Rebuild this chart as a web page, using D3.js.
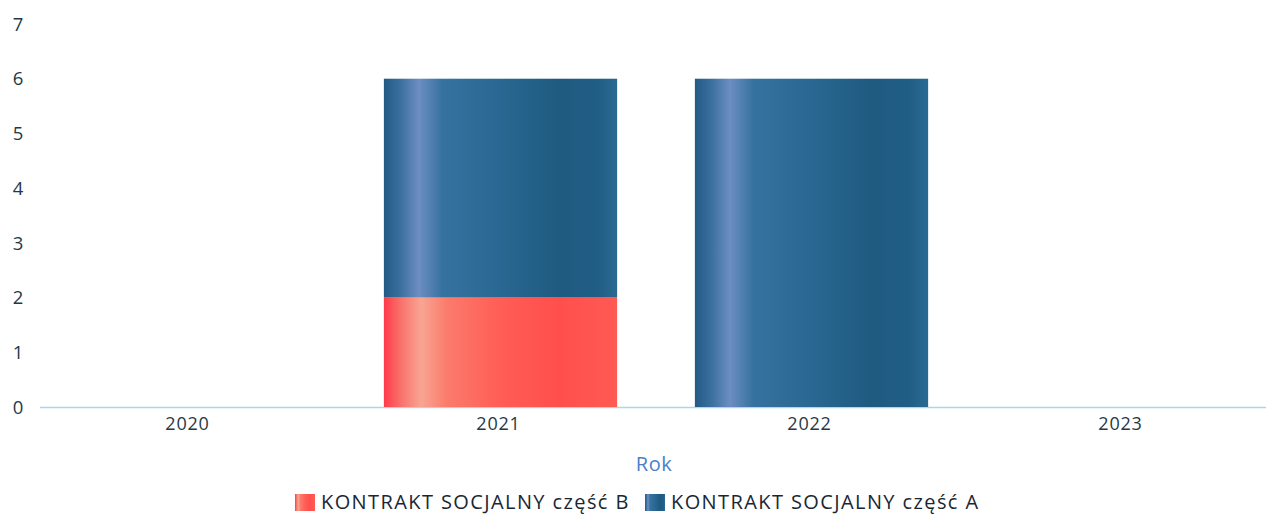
<!DOCTYPE html>
<html><head><meta charset="utf-8">
<script src="https://cdn.jsdelivr.net/npm/d3@7/dist/d3.min.js"></script>
<style>body{margin:0;background:#fff;}svg{display:block;font-family:"Open Sans","Noto Sans",sans-serif;}</style>
</head><body>
<svg id="c" width="1266" height="515"></svg>
<script>
const years = ["2020","2021","2022","2023"];
const seriesNames = ["KONTRAKT SOCJALNY część B","KONTRAKT SOCJALNY część A"];
const partB = [0, 2, 0, 0];
const partA = [0, 4, 6, 0];
const yTicks = [0,1,2,3,4,5,6,7];

const svg = d3.select("#c");
const defs = svg.append("defs");
function grad(id, stops){
  const g = defs.append("linearGradient").attr("id", id).attr("x1","0").attr("x2","1").attr("y1","0").attr("y2","0");
  stops.forEach(s => g.append("stop").attr("offset", s[0]).attr("stop-color", s[1]));
}
grad("gA", [[0,"#235a84"],[0.07,"#3a6f9e"],[0.15,"#6d8ec2"],[0.25,"#3672a0"],[0.5,"#296892"],[0.75,"#1f5a80"],[0.92,"#215e86"],[1,"#2a6a92"]]);
grad("gB", [[0,"#ff3a4a"],[0.07,"#f8706a"],[0.16,"#f8a593"],[0.27,"#fb7b6c"],[0.5,"#ff5d55"],[0.75,"#ff4f4d"],[1,"#ff5a55"]]);

const x = d3.scaleBand().domain(years).range([34, 1278]).paddingInner(0.25).paddingOuter(0.125);
const y = d3.scaleLinear().domain([0, 7]).range([407, 24]);

// y tick labels
svg.append("g").selectAll("text").data(yTicks).join("text")
  .attr("x", 18).attr("y", d => y(d)).attr("dy", "0.36em").attr("text-anchor","middle")
  .attr("font-size", 18.5).attr("font-weight", 500).attr("fill", "#1f3a46").text(d => d);

// baseline
svg.append("line").attr("x1", 40).attr("x2", 1266).attr("y1", y(0)+0.5).attr("y2", y(0)+0.5)
  .attr("stroke", "#a9d9e8").attr("stroke-width", 1.5);

// stacked bars
const data = years.map((yr,i) => ({year: yr, B: partB[i], A: partA[i]}));
const stack = d3.stack().keys(["B","A"])(data);
const fills = {B: "url(#gB)", A: "url(#gA)"};
svg.append("g").selectAll("g").data(stack).join("g")
  .attr("fill", s => fills[s.key])
  .selectAll("rect").data(s => s.filter(d => d[1] - d[0] > 0)).join("rect")
  .attr("x", d => x(d.data.year)).attr("width", x.bandwidth())
  .attr("y", d => y(d[1])).attr("height", d => y(d[0]) - y(d[1]));

// x tick labels
svg.append("g").selectAll("text").data(years).join("text")
  .attr("x", d => x(d) + x.bandwidth()/2 - 2).attr("y", 424).attr("dy","0.36em")
  .attr("text-anchor","middle").attr("font-size", 18).attr("font-weight", 500).attr("letter-spacing", 0.8)
  .attr("fill", "#1f3a46").text(d => d);

// axis title
svg.append("text").attr("x", 654).attr("y", 464).attr("dy","0.35em").attr("text-anchor","middle")
  .attr("font-size", 20).attr("letter-spacing", 0.5).attr("fill", "#4a80c8").text("Rok");

// legend
const legX = [295, 645];
const legFill = ["url(#gB)","url(#gA)"];
seriesNames.forEach((n,i) => {
  svg.append("rect").attr("x", legX[i]).attr("y", 494).attr("width", 20).attr("height", 17).attr("fill", legFill[i]);
  svg.append("text").attr("x", legX[i] + 26).attr("y", 502).attr("dy","0.36em")
    .attr("font-size", 20).attr("font-weight", 500).attr("letter-spacing", 1.4).attr("fill", "#1a2733").text(n);
});
</script>
</body></html>
